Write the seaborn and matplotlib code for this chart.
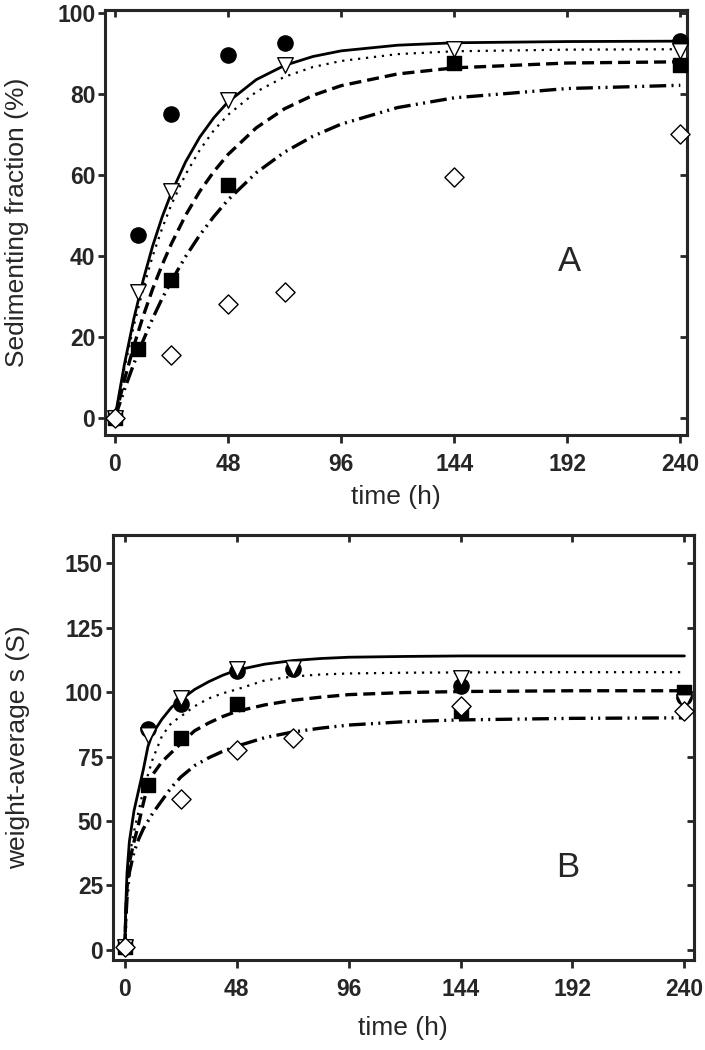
import matplotlib
matplotlib.use("Agg")
import matplotlib.pyplot as plt
import numpy as np
import pandas as pd
import seaborn as sns

# ── Data ─────────────────────────────────────────────────────────────────────
# Panel A: sedimenting fraction (%)
tA_circle = [0, 10, 24, 48, 72, 240]
yA_circle = [0, 45, 75, 89.5, 92.5, 93]
tA_tri = [0, 10, 24, 48, 72, 144, 240]
yA_tri = [0, 31, 56, 78.5, 87, 91, 90.5]
tA_square = [0, 10, 24, 48, 144, 240]
yA_square = [0, 17, 34, 57.5, 87.5, 87]
tA_diamond = [0, 24, 48, 72, 144, 240]
yA_diamond = [0, 15.5, 28, 31, 59.5, 70]

# fitted curves, panel A (read at these times)
tA_fit = [0, 4, 8, 12, 16, 20, 24, 30, 36, 42, 48, 60, 72, 84, 96, 120, 144, 192, 240]
fA_solid = [0, 13.1, 24.4, 34.0, 42.4, 49.5, 55.6, 63.2, 69.3, 74.1, 78.0, 83.5,
            87.0, 89.2, 90.6, 92.0, 92.6, 92.9, 93.0]
fA_dotted = [0, 12.2, 22.7, 31.9, 39.9, 46.7, 52.7, 60.1, 66.1, 71.0, 74.8, 80.5,
             84.2, 86.6, 88.1, 89.8, 90.5, 90.9, 91.0]
fA_dashed = [0, 9.3, 17.7, 25.1, 31.8, 37.7, 43.0, 50.0, 55.9, 60.8, 65.0, 71.6,
             76.3, 79.6, 82.0, 84.9, 86.4, 87.6, 87.9]
fA_dashdot = [0, 6.9, 13.3, 19.1, 24.5, 29.4, 33.8, 39.8, 45.1, 49.7, 53.8, 60.5,
              65.6, 69.5, 72.5, 76.6, 79.0, 81.3, 82.1]

# Panel B: weight-average s (S)
tB_circle = [0, 10, 24, 48, 72, 144, 240]
yB_circle = [1, 85.5, 95.5, 108, 109, 102.5, 98]
tB_tri = [0, 10, 24, 48, 72, 144, 240]
yB_tri = [1, 83.5, 97.5, 109, 109.5, 105.5, 96]
tB_square = [0, 10, 24, 48, 144, 240]
yB_square = [1, 64, 82, 95.5, 92.5, 100]
tB_diamond = [0, 24, 48, 72, 144, 240]
yB_diamond = [1, 58.5, 77.7, 82, 94.5, 92.5]

tB_fit = [0, 0.5, 1, 2, 4, 6, 8, 10, 12, 16, 20, 24, 30, 36, 42, 48, 60, 72, 84,
          96, 120, 144, 192, 240]
fB_solid = [0, 18, 30, 42, 54, 62, 70, 79, 84, 89.5, 94, 97, 101, 104, 106.5, 108.5,
            110.8, 112.2, 113, 113.5, 113.8, 114, 114, 114]
fB_dotted = [0, 15, 25, 36, 46, 54, 62, 68, 74, 83, 88, 90.5, 94.5, 97.5, 99.5, 101,
             104.5, 106, 106.8, 107.2, 107.5, 107.6, 107.7, 107.7]
fB_dashed = [0, 14, 24, 34, 42, 49, 57, 64, 68, 73, 76.5, 80, 85, 88, 90.5, 92.5,
             95, 96.8, 98, 99, 99.8, 100.2, 100.5, 100.5]
fB_dashdot = [0, 12, 20, 30, 38, 43, 47, 50, 53, 58, 63, 67, 71.5, 74.5, 77, 79,
              82.3, 84.5, 86, 87.2, 88.5, 89.2, 89.8, 90]

time_ticks = [0, 48, 96, 144, 192, 240]

# ── Style ────────────────────────────────────────────────────────────────────
sns.set_style("ticks")
plt.rcParams["font.family"] = ["Liberation Sans", "DejaVu Sans"]

LINESTYLES = {
    "solid": dict(linestyle="-", linewidth=2.0),
    "dotted": dict(linestyle=(0, (1, 2.6)), linewidth=1.6),
    "dashed": dict(linestyle=(0, (3.6, 1.8)), linewidth=2.4),
    "dashdot": dict(linestyle=(0, (5, 1.6, 0.6, 1.6, 0.6, 1.6)), linewidth=2.4),
}

MARKERS = [
    ("o", "black", 120),
    ("s", "black", 105),
    ("v", "white", 125),
    ("D", "white", 95),
]


def draw_panel(ax, t_fit, fits, points, xlim, ylim, yticks, ylabel, letter, letter_xy,
               ylab_x, xlab_y):
    for name, vals in zip(["solid", "dotted", "dashed", "dashdot"], fits):
        d = pd.DataFrame({"t": t_fit, "y": vals})
        sns.lineplot(data=d, x="t", y="y", ax=ax, color="black", sort=False,
                     **LINESTYLES[name])

    for (mk, fc, s), (tt, yy) in zip(MARKERS, points):
        d = pd.DataFrame({"t": tt, "y": yy})
        sns.scatterplot(data=d, x="t", y="y", ax=ax, marker=mk, s=s, color=fc,
                        edgecolor="black", linewidth=1.0, zorder=5, clip_on=False)

    ax.set_xlim(*xlim)
    ax.set_ylim(*ylim)
    ax.set_xticks(time_ticks, [str(v) for v in time_ticks], fontweight="bold",
                  fontsize=16.5)
    ax.set_yticks(yticks, [str(v) for v in yticks], fontweight="bold", fontsize=16.5)
    ax.tick_params(axis="x", direction="out", length=6, width=2, pad=7)
    ax.tick_params(axis="y", direction="out", length=5, width=2, pad=2)

    for sp in ax.spines.values():
        sp.set_visible(True)
        sp.set_linewidth(2.2)

    # inward ticks on top and right
    top = ax.secondary_xaxis("top")
    top.set_xticks(time_ticks)
    top.tick_params(direction="in", length=5, width=2, labeltop=False)
    top.spines["top"].set_linewidth(2.2)
    right = ax.secondary_yaxis("right")
    right.set_yticks(yticks)
    right.tick_params(direction="in", length=5, width=2, labelright=False)
    right.spines["right"].set_linewidth(2.2)

    ax.set_xlabel("time (h)", fontsize=19)
    ax.xaxis.set_label_coords(0.5, xlab_y)
    ax.set_ylabel(ylabel, fontsize=19)
    ax.yaxis.set_label_coords(ylab_x, 0.5)
    ax.text(letter_xy[0], letter_xy[1], letter, fontsize=25, ha="center",
            va="center")


fig = plt.figure(figsize=(7.05, 10.5), dpi=100, facecolor="white")
axA = fig.add_axes([0.149, 0.586, 0.826, 0.4045])
axB = fig.add_axes([0.160, 0.0857, 0.824, 0.4048])

draw_panel(
    axA, tA_fit, [fA_solid, fA_dotted, fA_dashed, fA_dashdot],
    [(tA_circle, yA_circle), (tA_square, yA_square), (tA_tri, yA_tri),
     (tA_diamond, yA_diamond)],
    (-4.2, 243), (-4.2, 100.7), [0, 20, 40, 60, 80, 100],
    "Sedimenting fraction (%)", "A", (193, 38.5), -0.13, -0.118,
)
draw_panel(
    axB, tB_fit, [fB_solid, fB_dotted, fB_dashed, fB_dashdot],
    [(tB_circle, yB_circle), (tB_square, yB_square), (tB_tri, yB_tri),
     (tB_diamond, yB_diamond)],
    (-5.1, 244), (-3.9, 160.9), [0, 25, 50, 75, 100, 125, 150],
    "weight-average s (S)", "B", (190, 32), -0.143, -0.132,
)

fig.savefig("out.png", dpi=100, facecolor="white")
